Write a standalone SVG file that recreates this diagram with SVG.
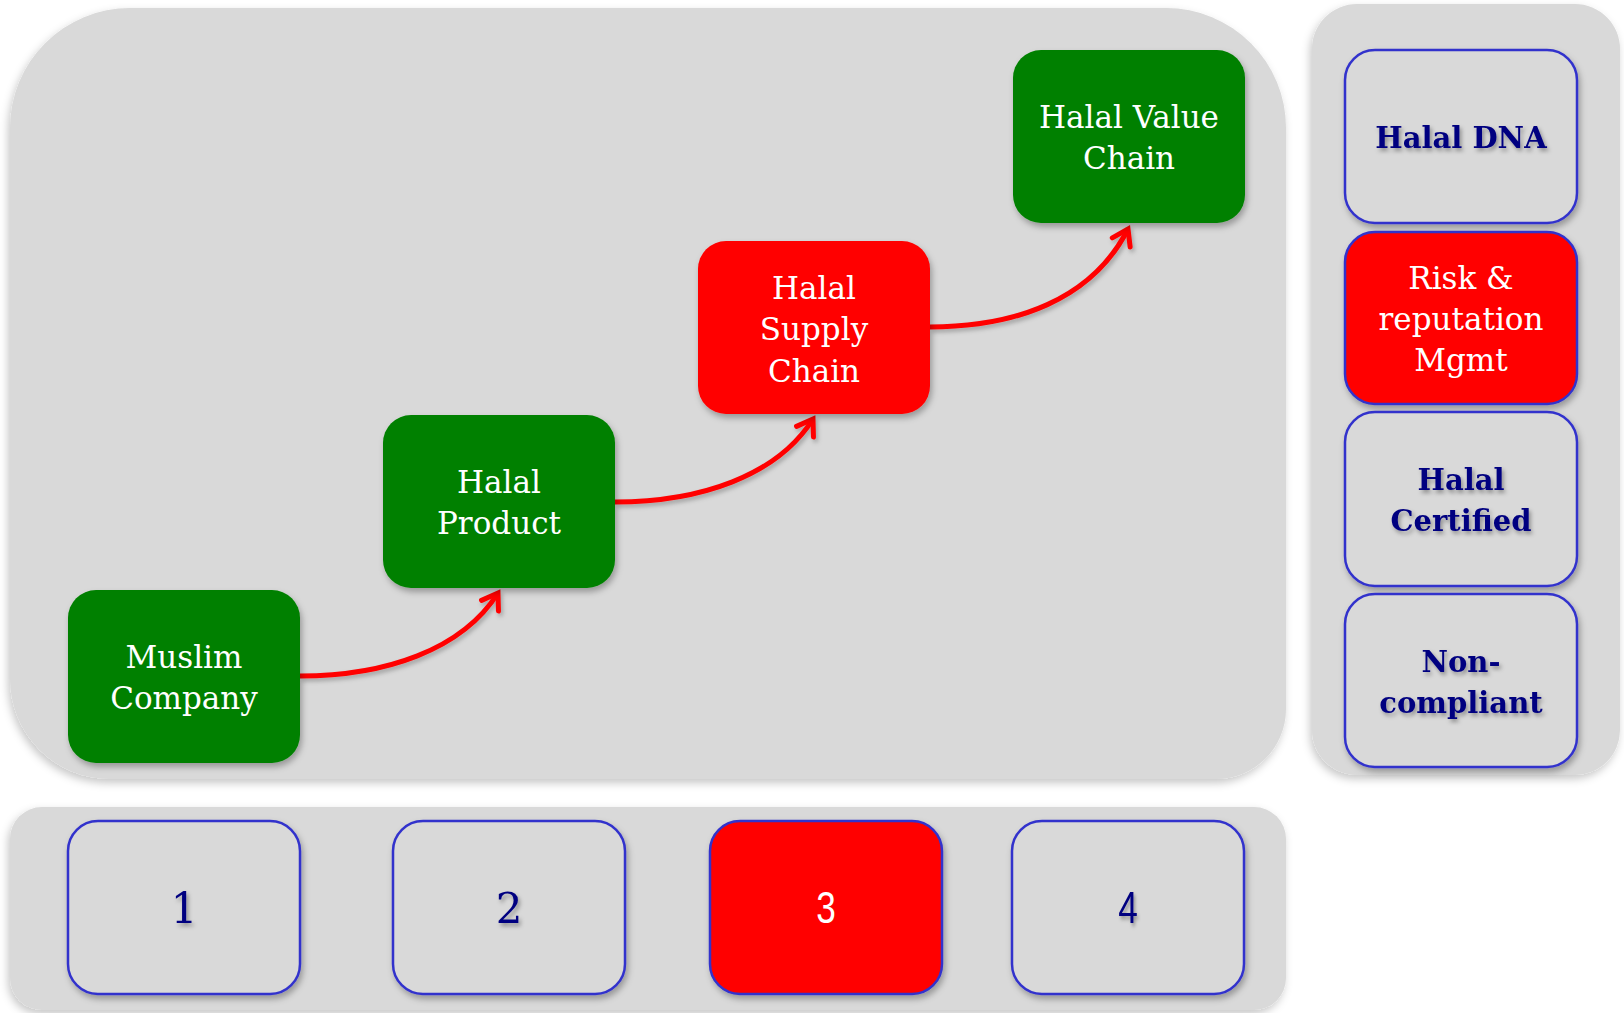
<svg xmlns="http://www.w3.org/2000/svg" width="1624" height="1013" viewBox="0 0 1624 1013">
<defs>
<filter id="panelShadow" x="-5%" y="-5%" width="110%" height="110%">
<feDropShadow dx="-2" dy="4" stdDeviation="4" flood-color="#000" flood-opacity="0.22"/>
</filter>
<filter id="nodeShadow" x="-10%" y="-10%" width="125%" height="130%">
<feDropShadow dx="2" dy="4" stdDeviation="3" flood-color="#000" flood-opacity="0.3"/>
</filter>
<filter id="textShadow" x="-10%" y="-20%" width="125%" height="150%">
<feDropShadow dx="2" dy="3" stdDeviation="2" flood-color="#000" flood-opacity="0.35"/>
</filter>
<filter id="lineShadow" x="-10%" y="-20%" width="125%" height="150%">
<feDropShadow dx="2" dy="3" stdDeviation="2" flood-color="#000" flood-opacity="0.25"/>
</filter>
<marker id="arrow" markerUnits="userSpaceOnUse" markerWidth="30" markerHeight="30" viewBox="-20 -15 30 30" refX="0" refY="0" orient="auto">
<path d="M-15,-10 L0,0 L-15,10" fill="none" stroke="#ff0000" stroke-width="5" stroke-linecap="round" stroke-linejoin="miter"/>
</marker>
</defs>
<style>
.panel{fill:#d9d9d9;filter:url(#panelShadow)}
.green{fill:#008000;filter:url(#nodeShadow)}
.red{fill:#ff0000;filter:url(#nodeShadow)}
.outline{fill:#d9d9d9;stroke:#3333cc;stroke-width:2.5;filter:url(#nodeShadow)}
.redout{fill:#ff0000;stroke:#3333cc;stroke-width:2.5;filter:url(#nodeShadow)}
.wt{font-family:"DejaVu Serif","Liberation Serif",serif;font-size:31px;fill:#ffffff;text-anchor:middle}
.nt{font-family:"DejaVu Serif","Liberation Serif",serif;font-size:29px;font-weight:bold;fill:#000080;text-anchor:middle;filter:url(#textShadow)}
.num{font-family:"DejaVu Serif","Liberation Serif",serif;font-size:42px;fill:#000080;text-anchor:middle;filter:url(#textShadow)}
.numw{font-family:"Liberation Sans",sans-serif;font-size:44px;fill:#ffffff;text-anchor:middle}
.numn{font-family:"Liberation Sans",sans-serif;font-size:44px;fill:#000080;text-anchor:middle;filter:url(#textShadow)}
.conn{fill:none;stroke:#ff0000;stroke-width:5;filter:url(#lineShadow)}
</style>
<rect width="1624" height="1013" fill="#ffffff"/>
<g id="main-panel">
<path class="panel" d="M130,8 H1166 A120,120 0 0 1 1286,128 V709 A70,70 0 0 1 1216,779 H110 A100,100 0 0 1 10,679 V128 A120,120 0 0 1 130,8 Z"/>
</g>
<g id="side-panel">
<rect class="panel" x="1312" y="4" width="308" height="771" rx="45" ry="45"/>
</g>
<g id="bottom-panel">
<rect class="panel" x="10" y="807" width="1276" height="203" rx="32" ry="32"/>
</g>
<g id="connectors">
<path class="conn" marker-end="url(#arrow)" d="M300,676 C385,676 462,650 498,593"/>
<path class="conn" marker-end="url(#arrow)" d="M615,502 C700,502 777,476 813,419"/>
<path class="conn" marker-end="url(#arrow)" d="M930,327 C1015,327 1092,300 1128,229"/>
</g>
<g id="node-muslim-company">
<rect class="green" x="68" y="590" width="232" height="173" rx="28"/>
<text class="wt" x="184" y="668">Muslim</text>
<text class="wt" x="184" y="709">Company</text>
</g>
<g id="node-halal-product">
<rect class="green" x="383" y="415" width="232" height="173" rx="28"/>
<text class="wt" x="499" y="493">Halal</text>
<text class="wt" x="499" y="534">Product</text>
</g>
<g id="node-halal-supply-chain">
<rect class="red" x="698" y="241" width="232" height="173" rx="28"/>
<text class="wt" x="814" y="299">Halal</text>
<text class="wt" x="814" y="340">Supply</text>
<text class="wt" x="814" y="382">Chain</text>
</g>
<g id="node-halal-value-chain">
<rect class="green" x="1013" y="50" width="232" height="173" rx="28"/>
<text class="wt" x="1129" y="128">Halal Value</text>
<text class="wt" x="1129" y="169">Chain</text>
</g>
<g id="node-halal-dna">
<rect class="outline" x="1345" y="50" width="232" height="173" rx="30"/>
<text class="nt" x="1461" y="148">Halal DNA</text>
</g>
<g id="node-risk">
<rect class="redout" x="1345" y="232" width="232" height="172" rx="30"/>
<text class="wt" x="1461" y="289">Risk &amp;</text>
<text class="wt" x="1461" y="330">reputation</text>
<text class="wt" x="1461" y="371">Mgmt</text>
</g>
<g id="node-halal-certified">
<rect class="outline" x="1345" y="412" width="232" height="174" rx="30"/>
<text class="nt" x="1461" y="490">Halal</text>
<text class="nt" x="1461" y="531">Certified</text>
</g>
<g id="node-non-compliant">
<rect class="outline" x="1345" y="594" width="232" height="173" rx="30"/>
<text class="nt" x="1461" y="672">Non-</text>
<text class="nt" x="1461" y="713">compliant</text>
</g>
<g id="node-1">
<rect class="outline" x="68" y="821" width="232" height="173" rx="30"/>
<text class="num" x="184" y="923">1</text>
</g>
<g id="node-2">
<rect class="outline" x="393" y="821" width="232" height="173" rx="30"/>
<text class="num" x="509" y="923">2</text>
</g>
<g id="node-3">
<rect class="redout" x="710" y="821" width="232" height="173" rx="30"/>
<text class="numw" transform="translate(826,923) scale(0.8,1)" x="0" y="0">3</text>
</g>
<g id="node-4">
<rect class="outline" x="1012" y="821" width="232" height="173" rx="30"/>
<text class="numn" transform="translate(1128,923) scale(0.8,1)" x="0" y="0">4</text>
</g>
</svg>
